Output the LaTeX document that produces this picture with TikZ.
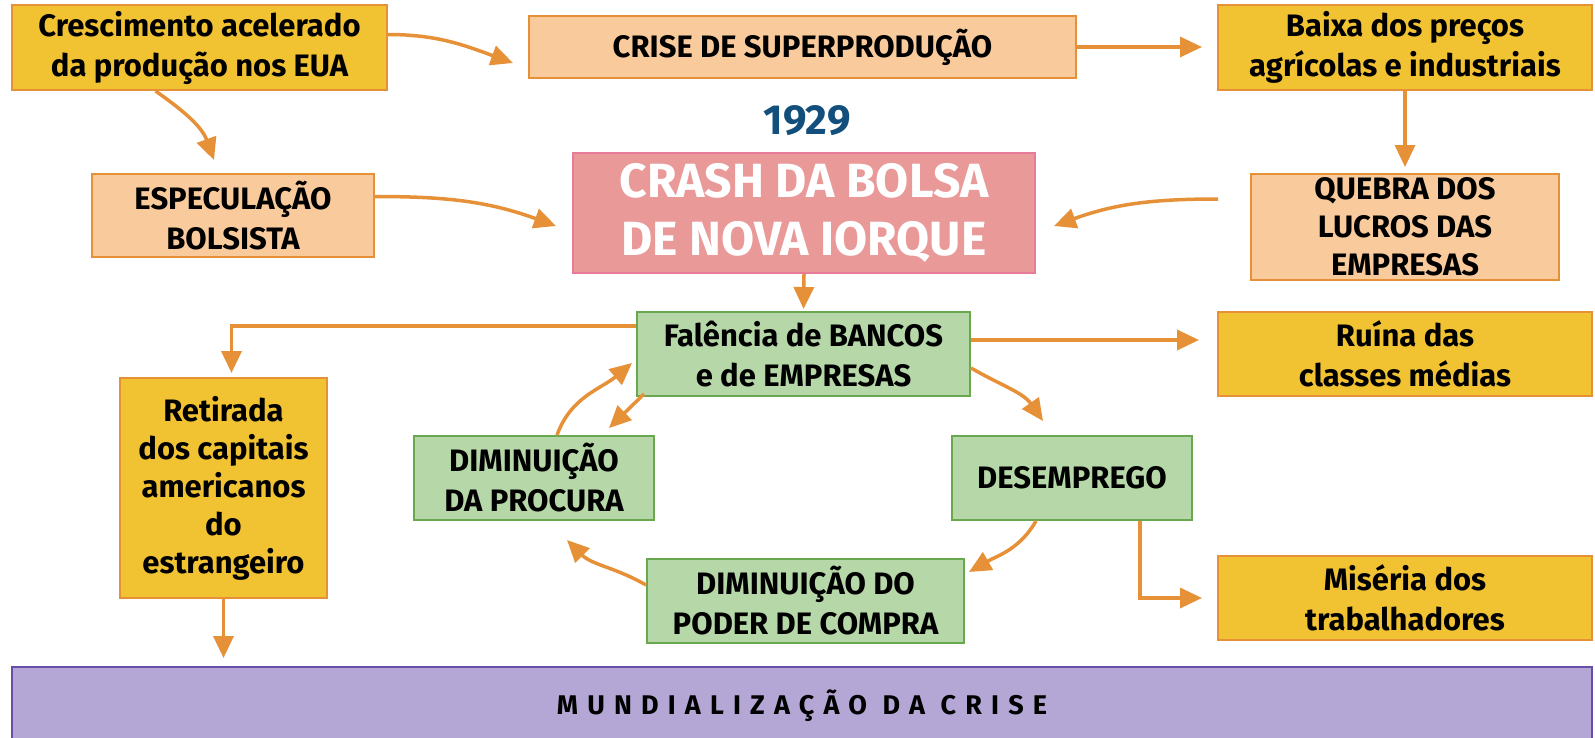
\documentclass[tikz,border=0pt]{standalone}
\usepackage{fontspec}
\setmainfont{Fira Sans}
\usepackage{tikz}
\usetikzlibrary{positioning}
\usetikzlibrary{calc,arrows.meta}

\definecolor{corAmarelo}{HTML}{F1C232}
\definecolor{corPessego}{HTML}{F9CB9C}
\definecolor{corRosa}{HTML}{EA9999}
\definecolor{corRosaBorda}{HTML}{E67C9A}
\definecolor{corVerde}{HTML}{B6D7A8}
\definecolor{corVerdeBorda}{HTML}{6AA84F}
\definecolor{corLilas}{HTML}{B4A7D6}
\definecolor{corLilasBorda}{HTML}{674EA7}
\definecolor{corLaranja}{HTML}{E69138}
\definecolor{corAno}{HTML}{134F7C}

\tikzset{
  caixa/.style={draw=corLaranja, line width=2pt, align=center, inner sep=0pt,
    font=\bfseries\fontsize{31}{40}\selectfont},
  amarela/.style={caixa, fill=corAmarelo},
  pessego/.style={caixa, fill=corPessego},
  verde/.style={caixa, fill=corVerde, draw=corVerdeBorda},
  seta/.style={draw=corLaranja, line width=3.5pt, -{Triangle[length=22pt,width=20pt]}}
}

\begin{document}
\begin{tikzpicture}[x=1pt,y=-1pt]
    \useasboundingbox (0,0) rectangle (1595,737);

    % Top row
    \node[amarela, minimum width=375pt, minimum height=85pt] (cresc) at (199.5,47.5)
        {Crescimento acelerado\\da produção nos EUA};
    \node[pessego, minimum width=547pt, minimum height=62pt] (crise) at (802.5,47)
        {CRISE DE SUPERPRODUÇÃO};
    \node[amarela, minimum width=374pt, minimum height=85pt] (baixa) at (1405,47.5)
        {Baixa dos preços\\agrícolas e industriais};

    % Crash
    \node[font=\bfseries\fontsize{42}{46}\selectfont, text=corAno] (ano) at (807,121) {1929};
    \node[caixa, fill=corRosa, draw=corRosaBorda, text=white, minimum width=462pt, minimum height=120pt,
        font=\bfseries\fontsize{48}{58}\selectfont] (crash) at (804,213)
        {CRASH DA BOLSA\\DE NOVA IORQUE};
    \node[pessego, minimum width=282pt, minimum height=83pt] (espec) at (233,215.5)
        {ESPECULAÇÃO\\BOLSISTA};
    \node[pessego, minimum width=308pt, minimum height=106pt,
        font=\bfseries\fontsize{31}{38}\selectfont] (quebra) at (1405,227)
        {QUEBRA DOS\\LUCROS DAS\\EMPRESAS};

    % Cycle
    \node[verde, minimum width=333pt, minimum height=84pt] (falencia) at (803.5,354)
        {Falência de BANCOS\\e de EMPRESAS};
    \node[verde, minimum width=240pt, minimum height=84pt] (dprocura) at (534,478)
        {DIMINUIÇÃO\\DA PROCURA};
    \node[verde, minimum width=240pt, minimum height=84pt] (desemp) at (1072,478)
        {DESEMPREGO};
    \node[verde, minimum width=317pt, minimum height=84pt] (dpoder) at (805.5,601)
        {DIMINUIÇÃO DO\\PODER DE COMPRA};

    % Consequences
    \node[amarela, minimum width=374pt, minimum height=84pt] (ruina) at (1405,354)
        {Ruína das\\classes médias};
    \node[amarela, minimum width=374pt, minimum height=84pt] (miseria) at (1405,598)
        {Miséria dos\\trabalhadores};
    \node[amarela, minimum width=207pt, minimum height=220pt,
        font=\bfseries\fontsize{31}{38}\selectfont] (retirada) at (223.5,488)
        {Retirada\\dos capitais\\americanos\\do\\estrangeiro};
    \node[caixa, fill=corLilas, draw=corLilasBorda, minimum width=1580pt, minimum height=78pt,
        font=\bfseries\fontsize{27}{30}\selectfont\addfontfeature{LetterSpace=34}] (mundial) at (802,706)
        {MUNDIALIZAÇÃO DA CRISE};

    % Arrows
    \draw[seta] ([yshift=13pt]cresc.east) to[out=0,in=160] ([xshift=-15pt,yshift=-16pt]crise.west);
    \draw[seta] ([xshift=-44pt]cresc.south) to[out=-35,in=110] ([xshift=-19pt,yshift=13pt]espec.north);
    \draw[seta, shorten >=15pt] (crise.east) -- (crise.east -| baixa.west);
    \draw[seta, shorten >=6pt] (baixa.south) -- (quebra.north);
    \draw[seta] ([xshift=-32pt,yshift=28pt]quebra.west) to[out=180,in=20] ([xshift=18pt,yshift=-13pt]crash.east);
    \draw[seta] ([yshift=19pt]espec.east) to[out=0,in=160] ([xshift=-16pt,yshift=-13pt]crash.west);
    \draw[seta, shorten >=2pt] (crash.south) -- (falencia.north);
    \draw[seta, shorten >=4pt] ([yshift=28pt]falencia.west) -| ([xshift=8pt]retirada.north);
    \draw[seta, shorten >=18pt] ([yshift=14pt]falencia.east) -- ([yshift=14pt]falencia.east -| ruina.west);
    \draw[seta] ([yshift=-14pt]falencia.east) to[out=-30,in=125] ([xshift=-29pt,yshift=14pt]desemp.north);
    \draw[seta] ([xshift=-36pt]desemp.south) to[out=-120,in=30] ([xshift=4pt,yshift=-14pt]dpoder.north east);
    \draw[seta] ([yshift=16pt]dpoder.west) to[out=150,in=-45] ([xshift=33pt,yshift=-19pt]dprocura.south);
    \draw[seta] ([xshift=23pt]dprocura.north) to[out=70,in=-140] ([xshift=-4pt,yshift=-9pt]falencia.west);
    \draw[seta] ([xshift=8pt,yshift=3pt]falencia.south west) -- ([xshift=-27pt,yshift=-31pt]falencia.south west);
    \draw[seta, shorten >=15pt] ([xshift=68pt]desemp.south) |- (miseria.west);
    \draw[seta, shorten >=8pt] (retirada.south) -- (retirada.south |- mundial.north);
\end{tikzpicture}
\end{document}
